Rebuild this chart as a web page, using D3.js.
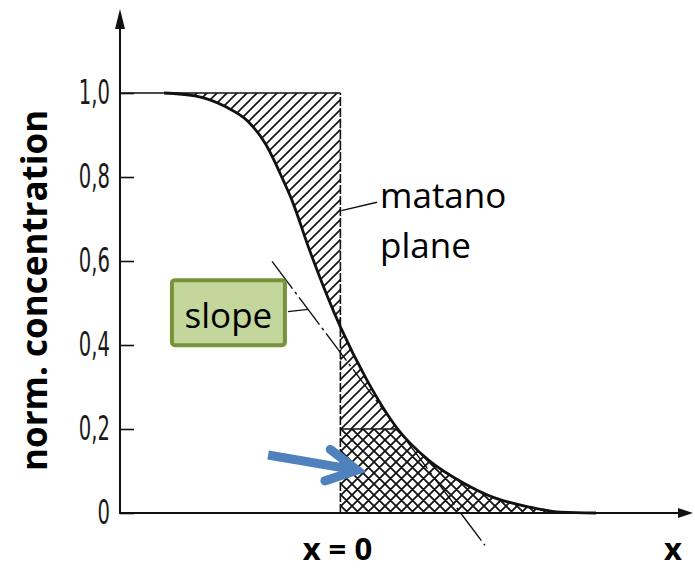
<!DOCTYPE html>
<html><head><meta charset="utf-8">
<script src="https://cdn.jsdelivr.net/npm/d3@7"></script>
<style>
html,body{margin:0;padding:0;background:#fff;}
svg{display:block;}
</style></head><body>
<svg id="chart" width="695" height="570"></svg>
<script>
// Normalised concentration profile c(x) across a diffusion couple
const positions = [-4, -3.3, -2.6, -2.1, -1.7, -1.3, -1.1, -0.7, 0, 0.6, 1.3, 2.0, 2.8, 3.5, 4.3, 5.0, 5.8];
const concentrations = [1, 0.993, 0.967, 0.933, 0.879, 0.793, 0.745, 0.626, 0.443, 0.317, 0.2, 0.126, 0.071, 0.036, 0.014, 0.002, 0];
const tickValues = [0, 0.2, 0.4, 0.6, 0.8, 1.0];
const tickLabels = ["0", "0,2", "0,4", "0,6", "0,8", "1,0"];
const matanoPlane = 0;          // x of the Matano plane
const cStar = 0.2;              // concentration at which the slope is taken
const xStar = 1.3;              // position where the profile reaches c*
const slopeAtStar = -0.14;      // dc/dx of the tangent at c*
const tangentSpan = [-1.55, 3.28];

const profile = positions.map((x, i) => ({x, c: concentrations[i]}));

const svg = d3.select("#chart");
const x = d3.scaleLinear().domain([-5, 8]).range([120, 693]);
const y = d3.scaleLinear().domain([0, 1]).range([513, 93]);
const ink = "#111";

// hatch patterns
const defs = svg.append("defs");
const hatch = defs.append("pattern").attr("id", "hatch")
  .attr("patternUnits", "userSpaceOnUse").attr("width", 10).attr("height", 10);
hatch.append("path").attr("d", "M-1,1 l2,-2 M0,10 l10,-10 M9,11 l2,-2")
  .attr("stroke", ink).attr("stroke-width", 1.6).attr("fill", "none");
const cross = defs.append("pattern").attr("id", "cross")
  .attr("patternUnits", "userSpaceOnUse").attr("width", 11).attr("height", 11);
cross.append("path")
  .attr("d", "M-1,1 l2,-2 M0,11 l11,-11 M10,12 l2,-2 M-1,10 l2,2 M0,0 l11,11 M10,-1 l2,2")
  .attr("stroke", ink).attr("stroke-width", 1.8).attr("fill", "none");

function clipRect(id, x0, x1, c0, c1) {
  defs.append("clipPath").attr("id", id).append("rect")
    .attr("x", x(x0)).attr("y", y(c1))
    .attr("width", x(x1) - x(x0)).attr("height", y(c0) - y(c1));
}
clipRect("clipLeft", -5, matanoPlane, 0, 1);
clipRect("clipUpper", matanoPlane, 8, cStar, 1);
clipRect("clipLower", matanoPlane, 8, 0, cStar);

const areaAbove = d3.area().x(d => x(d.x)).y0(y(1)).y1(d => y(d.c)).curve(d3.curveMonotoneX);
const areaBelow = d3.area().x(d => x(d.x)).y0(y(0)).y1(d => y(d.c)).curve(d3.curveMonotoneX);

svg.append("path").attr("d", areaAbove(profile)).attr("fill", "url(#hatch)").attr("clip-path", "url(#clipLeft)");
svg.append("path").attr("d", areaBelow(profile)).attr("fill", "url(#hatch)").attr("clip-path", "url(#clipUpper)");
svg.append("path").attr("d", areaBelow(profile)).attr("fill", "url(#cross)").attr("clip-path", "url(#clipLower)");

// Matano plane and the c = 1 / c = c* boundaries
svg.append("line").attr("x1", x(matanoPlane)).attr("x2", x(matanoPlane))
  .attr("y1", y(0)).attr("y2", y(1))
  .attr("stroke", ink).attr("stroke-width", 1.6).attr("stroke-dasharray", "9,2");
svg.append("line").attr("x1", x(-5)).attr("x2", x(matanoPlane))
  .attr("y1", y(1)).attr("y2", y(1)).attr("stroke", ink).attr("stroke-width", 1.6);
svg.append("line").attr("x1", x(matanoPlane)).attr("x2", x(xStar))
  .attr("y1", y(cStar)).attr("y2", y(cStar)).attr("stroke", ink).attr("stroke-width", 1.3);

// tangent at c*
const tangent = tangentSpan.map(t => ({x: t, c: cStar + slopeAtStar * (t - xStar)}));
svg.append("line")
  .attr("x1", x(tangent[0].x)).attr("y1", y(tangent[0].c))
  .attr("x2", x(tangent[1].x)).attr("y2", y(tangent[1].c))
  .attr("stroke", ink).attr("stroke-width", 1.4).attr("stroke-dasharray", "34,4,3,4");

// concentration profile
const line = d3.line().x(d => x(d.x)).y(d => y(d.c)).curve(d3.curveMonotoneX);
svg.append("path").attr("d", line(profile)).attr("fill", "none")
  .attr("stroke", ink).attr("stroke-width", 2.8);

// axes with arrow heads
const ax0 = x(-5), ay0 = y(0), yTip = y(1.2), xTip = x(8);
svg.append("line").attr("x1", ax0).attr("x2", ax0).attr("y1", ay0 + 1).attr("y2", yTip + 15)
  .attr("stroke", ink).attr("stroke-width", 2);
svg.append("path").attr("d", `M${ax0},${yTip} L${ax0 - 5},${yTip + 20} L${ax0 + 5},${yTip + 20}Z`).attr("fill", ink);
svg.append("line").attr("x1", ax0 - 1).attr("x2", xTip - 12).attr("y1", ay0).attr("y2", ay0)
  .attr("stroke", ink).attr("stroke-width", 2);
svg.append("path").attr("d", `M${xTip},${ay0} L${xTip - 15},${ay0 - 5} L${xTip - 15},${ay0 + 5}Z`).attr("fill", ink);

const yAxis = d3.axisLeft(y).tickValues(tickValues)
  .tickFormat((d, i) => tickLabels[i]).tickSize(-14).tickPadding(10);
const g = svg.append("g").attr("transform", `translate(${ax0},0)`).call(yAxis);
g.select(".domain").remove();
g.selectAll(".tick line").attr("stroke", ink).attr("stroke-width", 1.6);
const squeeze = 0.66;
g.selectAll(".tick text")
  .attr("font-family", "'DejaVu Sans Condensed', 'DejaVu Sans'").attr("font-weight", 400)
  .attr("font-size", 33).attr("fill", "#1a1a1a")
  .attr("x", -10 / squeeze).attr("transform", `scale(${squeeze},1)`);

// axis titles
const sans = "'Open Sans', 'Noto Sans', sans-serif";
svg.append("text").attr("transform", `translate(47,${y(0.53)}) rotate(-90)`)
  .attr("text-anchor", "middle").attr("font-family", sans).attr("font-weight", 700)
  .attr("font-size", 35).attr("fill", "#000").text("norm. concentration");
svg.append("text").attr("x", x(matanoPlane) - 3).attr("y", 560).attr("text-anchor", "middle")
  .attr("font-family", sans).attr("font-weight", 700).attr("font-size", 31).attr("fill", "#000").text("x = 0");
svg.append("text").attr("x", 673).attr("y", 560).attr("text-anchor", "middle")
  .attr("font-family", sans).attr("font-weight", 700).attr("font-size", 31).attr("fill", "#000").text("x");

// Matano plane label
const mLab = {x: 0.9, c: 0.727};
svg.append("line").attr("x1", x(matanoPlane) + 1).attr("y1", y(0.72))
  .attr("x2", x(0.83)).attr("y2", y(0.74)).attr("stroke", ink).attr("stroke-width", 1.4);
svg.append("text").attr("x", x(mLab.x)).attr("y", y(mLab.c))
  .attr("font-family", sans).attr("font-size", 35).attr("fill", "#000").text("matano");
svg.append("text").attr("x", x(mLab.x)).attr("y", y(mLab.c) + 50)
  .attr("font-family", sans).attr("font-size", 35).attr("fill", "#000").text("plane");

// slope label
const sLab = {x: -2.54, c: 0.477};
const bw = 113, bh = 65;
const bx = x(sLab.x), by = y(sLab.c);
const leadX = -0.735;
svg.append("line").attr("x1", bx + bw / 2 + 3).attr("y1", by - 1)
  .attr("x2", x(leadX)).attr("y2", y(cStar + slopeAtStar * (leadX - xStar)))
  .attr("stroke", ink).attr("stroke-width", 1.4);
svg.append("rect").attr("x", bx - bw / 2).attr("y", by - bh / 2).attr("width", bw).attr("height", bh)
  .attr("rx", 3).attr("fill", "#c3d69b").attr("stroke", "#77933c").attr("stroke-width", 4);
svg.append("text").attr("x", bx).attr("y", by + 15).attr("text-anchor", "middle")
  .attr("font-family", sans).attr("font-size", 35).attr("fill", "#000").text("slope");

// blue pointer into the cross-hatched region
const aStart = {x: -1.64, c: 0.138}, aTip = {x: 0.38, c: 0.102};
const sx = x(aStart.x), sy = y(aStart.c), tx = x(aTip.x), ty = y(aTip.c);
const ang = Math.atan2(ty - sy, tx - sx), L = 34, th = 28 * Math.PI / 180;
const w1 = [tx - L * Math.cos(ang - th), ty - L * Math.sin(ang - th)];
const w2 = [tx - L * Math.cos(ang + th), ty - L * Math.sin(ang + th)];
const blue = "#4f81bd";
svg.append("line").attr("x1", sx).attr("y1", sy)
  .attr("x2", tx - 5 * Math.cos(ang)).attr("y2", ty - 5 * Math.sin(ang))
  .attr("stroke", blue).attr("stroke-width", 9);
svg.append("path").attr("d", `M${w1[0]},${w1[1]} L${tx},${ty} L${w2[0]},${w2[1]}`)
  .attr("fill", "none").attr("stroke", blue).attr("stroke-width", 9)
  .attr("stroke-linejoin", "miter").attr("stroke-linecap", "round");
</script>
</body></html>
